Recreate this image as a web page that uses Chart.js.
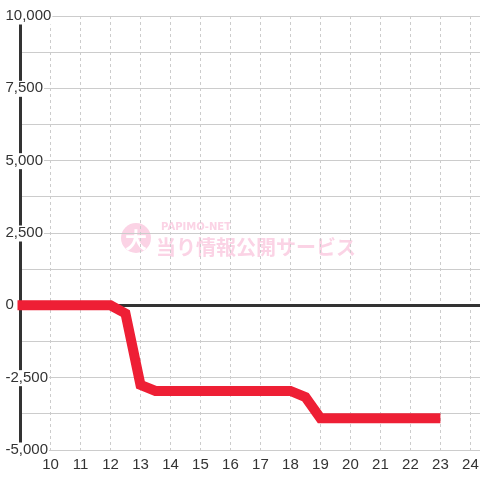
<!DOCTYPE html>
<html>
<head>
<meta charset="utf-8">
<script src="https://cdn.jsdelivr.net/npm/chart.js@4"></script>
<style>
    html, body { margin: 0; padding: 0; background: #fff; }
    #wrap { width: 480px; height: 480px; }
</style>
</head>
<body>
<div id="wrap"><canvas id="graph01"></canvas></div>
<script>
// 差枚推移データ (時刻, 差枚)
const hours = [8.8, 12, 12.5, 13, 13.5, 18, 18.5, 19, 23];
const diffCoins = [0, 0, -280, -2750, -2960, -2960, -3170, -3900, -3900];

// 軸目盛り
const xTickValues = [10, 11, 12, 13, 14, 15, 16, 17, 18, 19, 20, 21, 22, 23, 24];
const yTickValues = [-5000, -3750, -2500, -1250, 0, 1250, 2500, 3750, 5000, 6250, 7500, 8750, 10000];
const yLabelStep = 2500;

const COLOR_LINE = '#ee1f35';
const COLOR_GRID = '#cccccc';
const COLOR_TICK = '#333333';

// 背景の透かしロゴ
const watermark = {
    id: 'watermark',
    beforeDraw(chart) {
        const { ctx } = chart;
        const pink = '#fbd3e5';
        ctx.save();
        ctx.fillStyle = pink;
        ctx.beginPath();
        ctx.arc(136, 238, 15, 0, Math.PI * 2);
        ctx.fill();
        ctx.fillStyle = '#fff';
        ctx.font = 'bold 22px "Noto Sans CJK JP"';
        ctx.textAlign = 'center';
        ctx.textBaseline = 'middle';
        ctx.fillText('大', 136, 240);
        ctx.fillStyle = pink;
        ctx.textAlign = 'left';
        ctx.font = 'bold 10px "DejaVu Sans"';
        ctx.fillText('PAPIMO-NET', 161, 227);
        ctx.font = 'bold 20px "Noto Sans CJK JP"';
        ctx.fillText('当り情報公開サービス', 156, 247);
        ctx.restore();
    },
};

const ctx = document.getElementById('graph01').getContext('2d');
const chart = new Chart(ctx, {
    type: 'line',
    data: {
        datasets: [{
            data: hours.map((h, i) => ({ x: h, y: diffCoins[i] })),
            borderColor: COLOR_LINE,
            backgroundColor: COLOR_LINE,
            borderWidth: 10,
            pointRadius: 0,
            tension: 0,
            clip: { left: 3, right: 5, top: 5, bottom: 5 },
        }],
    },
    options: {
        responsive: true,
        maintainAspectRatio: false,
        animation: false,
        events: [],
        layout: {
            padding: { top: 16, left: 5, right: 0, bottom: 0 },
        },
        plugins: {
            legend: { display: false },
            tooltip: { enabled: false },
        },
        scales: {
            x: {
                type: 'linear',
                min: 9,
                max: 24.32,
                afterBuildTicks(axis) {
                    axis.ticks = xTickValues.map(v => ({ value: v }));
                },
                afterFit(scaleInstance) {
                    // 右端ラベルの余白を詰める
                    scaleInstance.paddingRight = 0;
                    scaleInstance.paddingLeft = 0;
                },
                grid: {
                    color: COLOR_GRID,
                    lineWidth: 1,
                    drawTicks: false,
                },
                // v4 ではグリッド線の点線は border.dash で指定
                border: { display: false, dash: [3, 3] },
                ticks: {
                    color: COLOR_TICK,
                    padding: 6,
                    maxRotation: 0,
                    font: { family: '"Liberation Sans", Arial', size: 15 },
                    callback: v => String(v),
                },
            },
            y: {
                type: 'linear',
                min: -5000,
                max: 10000,
                afterBuildTicks(axis) {
                    axis.ticks = yTickValues.map(v => ({ value: v }));
                },
                afterFit(scaleInstance) {
                    scaleInstance.width = 15.5;
                },
                grid: {
                    color: c => (c.tick && c.tick.value === 0 ? '#333333' : COLOR_GRID),
                    lineWidth: c => (c.tick && c.tick.value === 0 ? 3 : 1),
                    drawTicks: false,
                },
                border: { display: true, color: '#333333', width: 3 },
                ticks: {
                    color: COLOR_TICK,
                    mirror: true,
                    crossAlign: 'near',
                    padding: -15,
                    font: { family: '"Liberation Sans", Arial', size: 15, lineHeight: 1 },
                    showLabelBackdrop: true,
                    backdropColor: '#ffffff',
                    backdropPadding: { top: 0, bottom: 1, left: 1, right: 1 },
                    callback: v => (v % yLabelStep === 0 ? v.toLocaleString('en-US') : ''),
                },
            },
        },
    },
    plugins: [watermark],
});
</script>
</body>
</html>
